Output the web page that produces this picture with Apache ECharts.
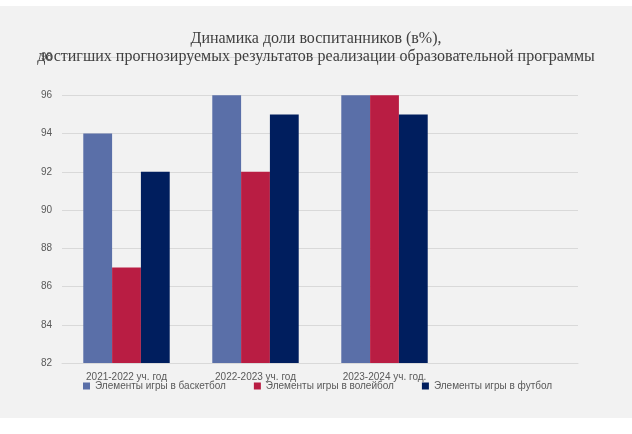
<!DOCTYPE html><html><head><meta charset="utf-8">
<script src="https://cdn.jsdelivr.net/npm/echarts@6/dist/echarts.min.js"></script>
<style>html,body{margin:0;padding:0;background:#fff}#c{position:absolute;left:0;top:6px;width:632px;height:412px;background:#f2f2f2}</style>
</head><body><div id="c"></div><script>
const categories=['2021-2022 уч. год','2022-2023 уч. год','2023-2024 уч. год.',''];
const basketball=[94,96,96,null];
const volleyball=[87,92,96,null];
const football=[92,95,95,null];
const names=['Элементы игры в баскетбол','Элементы игры в волейбол','Элементы игры в футбол'];
const colors=['#5a6fa8','#b91d43','#001e5e'];
const ch=echarts.init(document.getElementById('c'));
ch.setOption({
 backgroundColor:'#f2f2f2',
 color:colors,
 title:{text:'Динамика доли воспитанников (в%),\nдостигших прогнозируемых результатов реализации образовательной программы',left:'center',top:19,
  textStyle:{fontFamily:'Liberation Serif',fontWeight:'normal',fontSize:16,color:'#404040',lineHeight:18}},
 legend:{bottom:22,left:78,itemWidth:7,itemHeight:7,itemGap:28,icon:'rect',textStyle:{fontFamily:'Liberation Sans',fontSize:10,color:'#595959'}},
 grid:{left:62,right:54,top:51,bottom:55},
 xAxis:{type:'category',data:categories,axisTick:{show:false},axisLine:{lineStyle:{color:'#d9d9d9'}},
  axisLabel:{fontFamily:'Liberation Sans',fontSize:10,color:'#595959',margin:9}},
 yAxis:{type:'value',min:82,max:98,interval:2,axisLine:{show:false},axisTick:{show:false},
  splitLine:{lineStyle:{color:'#d9d9d9'}},axisLabel:{fontFamily:'Liberation Sans',fontSize:10,color:'#595959',margin:10}},
 series:[
  {name:names[0],type:'bar',data:basketball,barGap:'0%',barCategoryGap:'33%'},
  {name:names[1],type:'bar',data:volleyball},
  {name:names[2],type:'bar',data:football}
 ]
});
</script></body></html>
